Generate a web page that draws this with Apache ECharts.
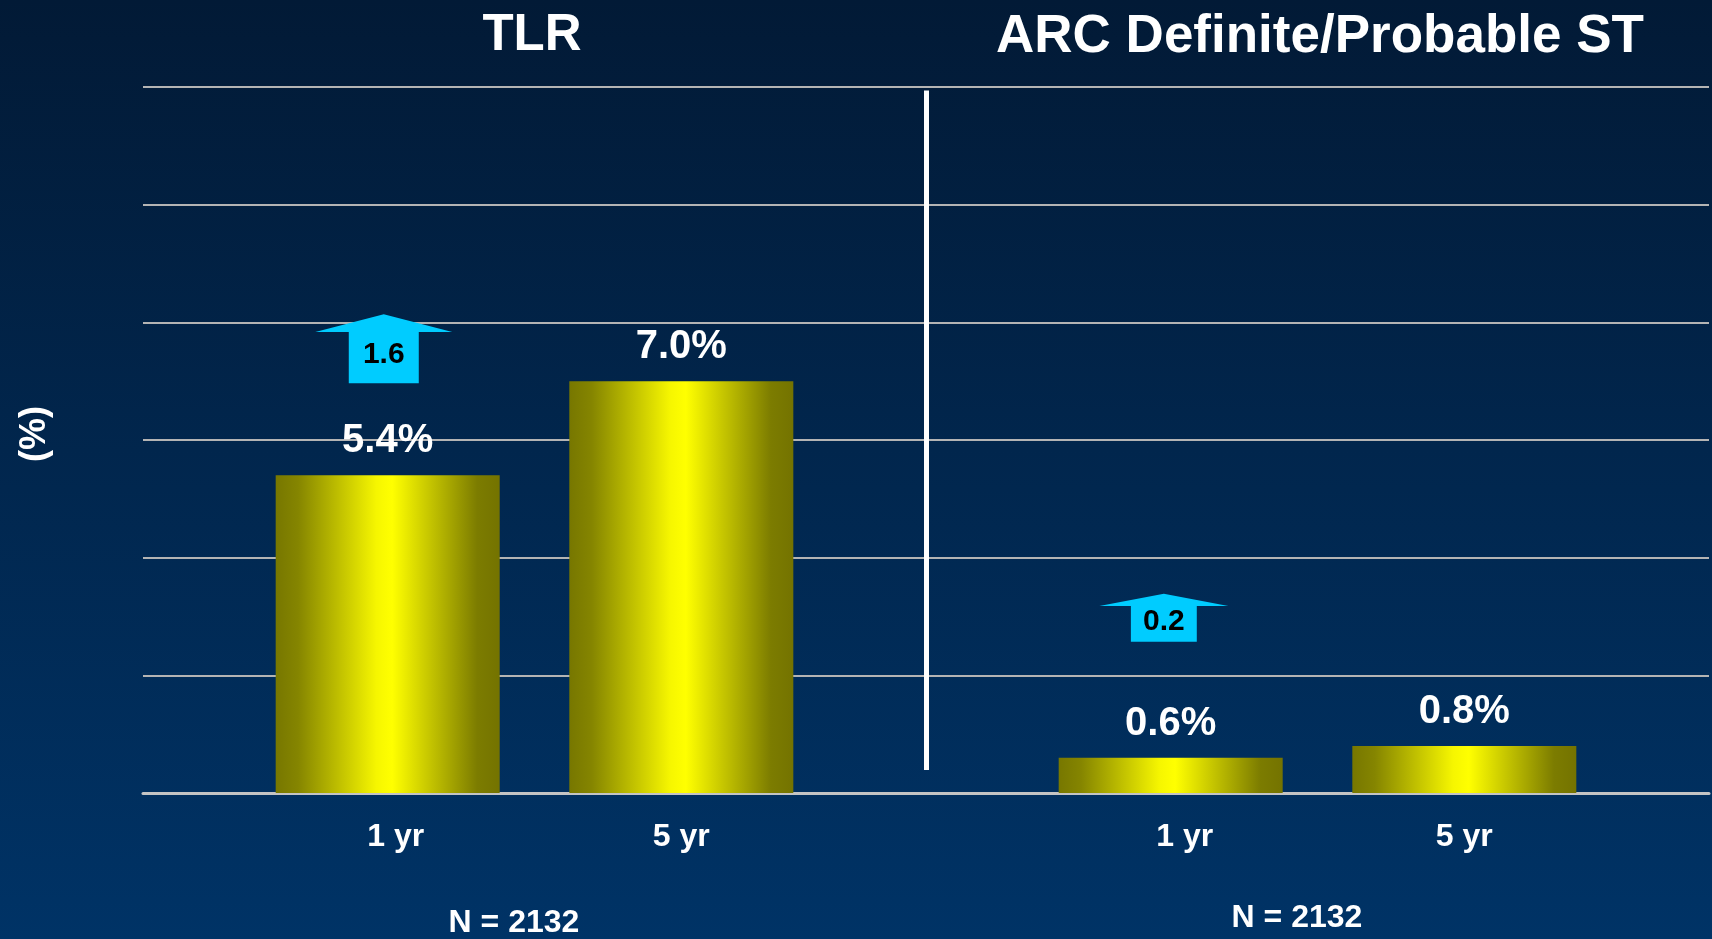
<!DOCTYPE html>
<html lang="en">
<head>
    <meta charset="UTF-8">
    <title>TLR / ARC ST</title>
    <script type="text/javascript" src="https://cdn.jsdelivr.net/npm/echarts@6/dist/echarts.min.js"></script>
    <style>
        html, body { margin: 0; padding: 0; }
        #main { width: 1712px; height: 939px; }
    </style>
</head>
<body>
<div id="main"></div>
<script>
    // data
    var groups = ['TLR', 'ARC Definite/Probable ST'];
    var periods = ['1 yr', '5 yr', '1 yr', '5 yr'];
    var rates = [5.4, 7.0, 0.6, 0.8];
    var increments = ['1.6', '0.2'];
    var arrowLevels = [7.55, 2.98];
    var sampleSizes = ['N = 2132', 'N = 2132'];

    // layout (x in axis units, 16 units across the grid)
    var barX = [2.5, 5.5, 10.5, 13.5];
    var labelPad = [16, 0, 28, 0];
    var arrowX = [2.46, 10.43];
    var arrowSize = [[137, 69], [129, 48]];
    var dividerX = 8;

    var font = 'Liberation Sans, Arial, sans-serif';
    var arrowPath = 'path://M68.5,0 L137,17.7 L103.5,17.7 L103.5,69 L33.5,69 L33.5,17.7 L0,17.7 Z';

    var myChart = echarts.init(document.getElementById('main'));

    var barData = rates.map(function (v, i) { return [barX[i], v]; });
    var arrowData = increments.map(function (t, i) {
        return {
            value: [arrowX[i], arrowLevels[i]],
            name: t,
            symbolSize: arrowSize[i],
            label: { offset: [0, i === 0 ? 6 : 4] }
        };
    });

    function textEl(text, x, y, size, rot) {
        return {
            type: 'text', x: x, y: y, rotation: rot || 0, silent: true,
            style: {
                text: text, fill: '#ffffff',
                font: 'bold ' + size + 'px ' + font,
                textAlign: 'center', textVerticalAlign: 'middle',
                align: 'center', verticalAlign: 'middle'
            }
        };
    }

    var rich = {};
    labelPad.forEach(function (p, i) {
        rich['p' + i] = { padding: [0, 0, 0, p], color: '#ffffff', fontFamily: font, fontWeight: 'bold', fontSize: 32 };
    });

    var option = {
        backgroundColor: {
            type: 'linear', x: 0, y: 0, x2: 0, y2: 1,
            colorStops: [
                { offset: 0, color: '#021a36' },
                { offset: 1, color: '#003366' }
            ]
        },
        graphic: [
            textEl(groups[0], 532, 36, 51),
            textEl(groups[1], 1320, 37, 53),
            textEl(sampleSizes[0], 514, 923, 32),
            textEl(sampleSizes[1], 1297, 918, 32),
            textEl('(%)', 35, 434, 36, Math.PI / 2)
        ],
        grid: { left: 143, right: 3, top: 87, bottom: 146 },
        xAxis: {
            type: 'value', min: 0, max: 16, interval: 0.5,
            axisLine: { show: true, onZero: false, lineStyle: { color: '#c4c4c4', width: 3 } },
            axisTick: { show: false },
            splitLine: { show: false },
            axisLabel: {
                show: true, margin: 28, color: '#ffffff',
                fontFamily: font, fontWeight: 'bold', fontSize: 32,
                showMinLabel: false, showMaxLabel: false,
                rich: rich,
                formatter: function (v) {
                    var k = barX.indexOf(v);
                    return k >= 0 ? '{p' + k + '|' + periods[k] + '}' : '';
                }
            }
        },
        yAxis: {
            type: 'value', min: 0, max: 12, interval: 2,
            axisLine: { show: false },
            axisTick: { show: false },
            axisLabel: { show: false },
            splitLine: { lineStyle: { color: '#b4b4b4', width: 2 } }
        },
        series: [{
            type: 'bar',
            data: barData,
            barWidth: 224,
            itemStyle: {
                color: {
                    type: 'linear', x: 0, y: 0, x2: 1, y2: 0,
                    colorStops: [
                        { offset: 0, color: '#777700' },
                        { offset: 0.1, color: '#858500' },
                        { offset: 0.45, color: '#f6f600' },
                        { offset: 0.52, color: '#ffff00' },
                        { offset: 0.9, color: '#7c7c00' },
                        { offset: 1, color: '#747300' }
                    ]
                }
            },
            label: {
                show: true, position: 'top', distance: 14,
                color: '#ffffff', fontFamily: font, fontWeight: 'bold', fontSize: 40,
                formatter: function (p) { return p.value[1].toFixed(1) + '%'; }
            },
            markLine: {
                silent: true, symbol: 'none',
                label: { show: false },
                lineStyle: { color: '#ffffff', width: 5, type: 'solid' },
                data: [[{ coord: [dividerX, 11.94] }, { coord: [dividerX, 0.39] }]]
            }
        }, {
            type: 'scatter',
            data: arrowData,
            symbol: arrowPath,
            symbolKeepAspect: false,
            z: 5,
            itemStyle: { color: '#00ccff', opacity: 1 },
            label: {
                show: true, position: 'inside',
                color: '#000000', fontFamily: font, fontWeight: 'bold', fontSize: 30,
                formatter: '{b}'
            }
        }]
    };

    myChart.setOption(option);
</script>
</body>
</html>
